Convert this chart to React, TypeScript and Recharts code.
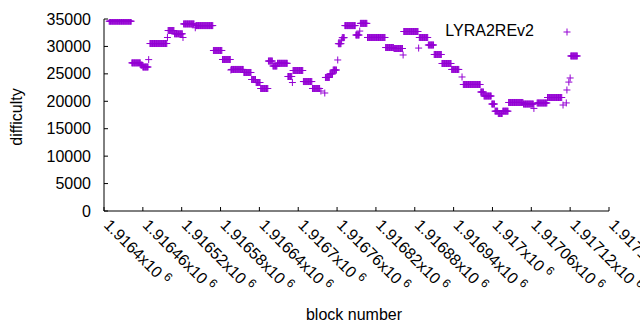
import React from 'react';
import { ScatterChart, Scatter, XAxis, YAxis, Legend } from 'recharts';

const seriesName = 'LYRA2REv2';
const runFirstBlock = [
  1916408, 1916443, 1916457, 1916460, 1916469, 1916471, 1916498, 1916499, 1916509, 1916522,
  1916523, 1916541, 1916542, 1916569, 1916583, 1916596, 1916597, 1916616, 1916628, 1916635,
  1916642, 1916654, 1916661, 1916668, 1916684, 1916691, 1916692, 1916708, 1916722, 1916735,
  1916741, 1916742, 1916749, 1916754, 1916761, 1916762, 1916767, 1916768, 1916772, 1916789,
  1916795, 1916796, 1916807, 1916835, 1916848, 1916862, 1916863, 1916886, 1916887, 1916901,
  1916910, 1916922, 1916937, 1916953, 1916955, 1916982, 1916987, 1916999, 1917004, 1917009,
  1917016, 1917025, 1917048, 1917064, 1917069, 1917085, 1917109, 1917114, 1917115, 1917118,
  1917120, 1917121,
];
const runLastBlock = [
  1916442, 1916456, 1916459, 1916468, 1916469, 1916497, 1916498, 1916508, 1916521, 1916522,
  1916539, 1916541, 1916568, 1916582, 1916595, 1916596, 1916615, 1916627, 1916634, 1916641,
  1916653, 1916660, 1916667, 1916683, 1916690, 1916691, 1916707, 1916721, 1916733, 1916735,
  1916741, 1916748, 1916753, 1916759, 1916761, 1916766, 1916767, 1916771, 1916788, 1916794,
  1916795, 1916806, 1916834, 1916847, 1916861, 1916862, 1916885, 1916886, 1916900, 1916909,
  1916921, 1916936, 1916948, 1916953, 1916981, 1916986, 1916998, 1917003, 1917008, 1917015,
  1917024, 1917047, 1917063, 1917064, 1917084, 1917107, 1917109, 1917114, 1917115, 1917118,
  1917120, 1917131,
];
const runDifficulty = [
  34600, 27000, 26600, 26250, 27600, 30530, 31630, 32900, 32300, 31630,
  34100, 33400, 33800, 29260, 27620, 25700, 25800, 25250, 23970, 23420,
  22330, 27340, 26430, 26920, 24520, 23420, 25610, 23600, 22330, 21870,
  21510, 24340, 25000, 25700, 27530, 30500, 31200, 31600, 33800, 32080,
  32800, 34200, 31630, 29800, 29620, 28440, 32720, 29700, 31630, 30260,
  28530, 26890, 25800, 24430, 23060, 21690, 20960, 19500, 18200, 17770,
  18200, 19780, 19500, 18700, 19690, 20690, 19320, 19700, 22060, 23500,
  24250, 28260,
];
const xTicks = [
  1916400, 1916460, 1916520, 1916580, 1916640, 1916700, 1916760,
  1916820, 1916880, 1916940, 1917000, 1917060, 1917120, 1917180,
];
const yTicks = [0, 5000, 10000, 15000, 20000, 25000, 30000, 35000];

const points: { block: number; difficulty: number }[] = [];
runFirstBlock.forEach((first, i) => {
  for (let b = first; b <= runLastBlock[i]; b++) {
    points.push({ block: b, difficulty: runDifficulty[i] });
  }
});

const FONT = '"Liberation Sans", Arial, sans-serif';
const FS = 16;
const COLOR = '#9400d3';

const PlusShape = (props: any) => {
  const { cx, cy } = props;
  if (cx == null || cy == null) return null;
  return (
    <path
      d={`M${cx - 3.5},${cy}h7M${cx},${cy - 3.5}v7`}
      stroke={COLOR}
      strokeWidth={1}
      fill="none"
    />
  );
};

const fmtMant = (v: number) => String(parseFloat((v / 1e6).toFixed(6)));

const XTickBottom = (props: any) => {
  const { x, y, payload } = props;
  return (
    <g>
      <line x1={x} y1={y} x2={x} y2={y - 4} stroke="#000" />
      <text
        transform={`translate(${x - 1},${y + 15}) rotate(45)`}
        fontSize={FS}
        fontFamily={FONT}
        fill="#000"
      >
        {fmtMant(payload.value)}x10
        <tspan dx={4} dy={-6} fontSize={12}>6</tspan>
      </text>
    </g>
  );
};

const XTickTop = (props: any) => {
  const { x, y } = props;
  return <line x1={x} y1={y} x2={x} y2={y + 4} stroke="#000" />;
};

const YTickLeft = (props: any) => {
  const { x, y, payload } = props;
  return (
    <g>
      <line x1={x} y1={y} x2={x + 4} y2={y} stroke="#000" />
      <text x={x - 13} y={y + 5.5} textAnchor="end" fontSize={FS} fontFamily={FONT} fill="#000">
        {payload.value}
      </text>
    </g>
  );
};

const YTickRight = (props: any) => {
  const { x, y } = props;
  return <line x1={x} y1={y} x2={x - 4} y2={y} stroke="#000" />;
};

const LegendContent = () => (
  <div style={{ position: 'relative', width: 0, height: 0 }}>
    <div
      style={{
        position: 'absolute',
        left: 340,
        width: 194,
        top: 22,
        textAlign: 'right',
        fontFamily: FONT,
        fontSize: FS,
        lineHeight: '18px',
        color: '#000',
        whiteSpace: 'nowrap',
      }}
    >
      {seriesName}
    </div>
    <svg style={{ position: 'absolute', left: 559, top: 27 }} width={16} height={10}>
      <path d="M4.5,5h7M8,1.5v7" stroke={COLOR} strokeWidth={1} fill="none" />
    </svg>
  </div>
);

export default function App() {
  return (
    <div style={{ position: 'absolute', left: 0, top: 0, width: 640, height: 330, background: '#fff' }}>
      <ScatterChart width={640} height={330} margin={{ top: 19, right: 31, bottom: 0, left: 0 }}>
        <XAxis
          dataKey="block"
          type="number"
          domain={[1916400, 1917180]}
          ticks={xTicks}
          interval={0}
          height={119}
          tickSize={0}
          tickMargin={0}
          tick={<XTickBottom />}
          axisLine={{ stroke: '#000' }}
          tickLine={false}
          allowDataOverflow
        />
        <XAxis
          xAxisId="top"
          orientation="top"
          dataKey="block"
          type="number"
          domain={[1916400, 1917180]}
          ticks={xTicks}
          interval={0}
          height={0}
          tickSize={0}
          tickMargin={0}
          tick={<XTickTop />}
          axisLine={{ stroke: '#000' }}
          tickLine={false}
          allowDataOverflow
        />
        <YAxis
          dataKey="difficulty"
          type="number"
          domain={[0, 35000]}
          ticks={yTicks}
          interval={0}
          width={104}
          tickSize={0}
          tickMargin={0}
          tick={<YTickLeft />}
          axisLine={{ stroke: '#000' }}
          tickLine={false}
          allowDataOverflow
        />
        <YAxis
          yAxisId="right"
          orientation="right"
          dataKey="difficulty"
          type="number"
          domain={[0, 35000]}
          ticks={yTicks}
          interval={0}
          width={0}
          tickSize={0}
          tickMargin={0}
          tick={<YTickRight />}
          axisLine={{ stroke: '#000' }}
          tickLine={false}
          allowDataOverflow
        />
        <Legend
          content={<LegendContent />}
          wrapperStyle={{ position: 'absolute', left: 0, top: 0, width: 0, height: 0 }}
          verticalAlign="middle"
          align="center"
        />
        <Scatter
          name={seriesName}
          data={points}
          shape={<PlusShape />}
          fill={COLOR}
          isAnimationActive={false}
        />
      </ScatterChart>
      <div
        style={{
          position: 'absolute',
          left: 17,
          top: 117,
          transform: 'translate(-50%, -50%) rotate(-90deg)',
          fontFamily: FONT,
          fontSize: FS,
          lineHeight: '18px',
          whiteSpace: 'nowrap',
          color: '#000',
        }}
      >
        difficulty
      </div>
      <div
        style={{
          position: 'absolute',
          left: 254,
          width: 200,
          top: 306,
          textAlign: 'center',
          fontFamily: FONT,
          fontSize: FS,
          lineHeight: '18px',
          whiteSpace: 'nowrap',
          color: '#000',
        }}
      >
        block number
      </div>
    </div>
  );
}
